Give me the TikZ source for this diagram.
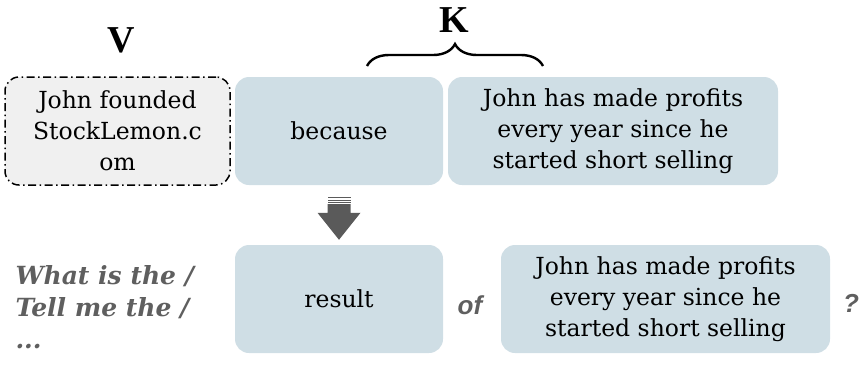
\documentclass[tikz,border=0pt]{standalone}
\usepackage{fontspec}
\setmainfont{DejaVu Serif}
\newfontfamily\qsans{Liberation Sans}
\newfontfamily\labelserif{Liberation Serif}
\usetikzlibrary{decorations.pathreplacing,calc}
\definecolor{boxblue}{RGB}{207,222,229}
\definecolor{boxgrey}{RGB}{240,240,240}
\definecolor{arrowgrey}{RGB}{90,90,90}
\definecolor{qgrey}{RGB}{95,95,95}
\begin{document}
\begin{tikzpicture}[x=1pt,y=-1pt,
  box/.style={rounded corners=14pt, minimum height=108pt, align=center,
    inner sep=0pt, font=\fontsize{23.5}{31}\selectfont},
  bluebox/.style={box, fill=boxblue},
  varbox/.style={box, fill=boxgrey, draw=black, line width=1.5pt,
    dash pattern=on 8pt off 3.5pt on 1.5pt off 3.5pt},
  biglabel/.style={inner sep=0pt, font=\fontsize{38}{40}\labelserif\bfseries},
  qtext/.style={text=qgrey, font=\fontsize{25}{32}\selectfont\bfseries\itshape, align=left},
  qsym/.style={text=qgrey, font=\fontsize{26}{28}\qsans\bfseries\itshape}]
\useasboundingbox (0,0) rectangle (859,368);

% top row: variable, relation, key
\node[varbox, minimum width=225pt] (v) at (117.5,131) {John founded\\StockLemon.c\\om};
\node[bluebox, minimum width=208pt] (because) at (339,131) {because};
\node[bluebox, minimum width=330pt] (k) at (613,131) {John has made profits\\every year since he\\started short selling};

% bottom row: question template
\node[bluebox, minimum width=208pt] (result) at (339,299) {result};
\node[bluebox, minimum width=329pt] (k2) at (665.5,299) {John has made profits\\every year since he\\started short selling};
\node[qsym] (of) at (470,305) {of};
\node[qsym] (qm) at (851,303) {?};
\node[qtext, anchor=north west] (ask) at (12,262) {What is the /\\Tell me the /\\...};

% labels
\node[biglabel] (vlabel) at (121,40) {V};
\coordinate (bl) at (367,66);
\coordinate (br) at (543,66);
\draw[line width=2.4pt, decorate, decoration={brace, amplitude=22pt, aspect=0.5}] (bl) -- (br);
\node[biglabel] (klabel) at (454,20) {K};

% transformation arrow
\coordinate (at) at ($(because.south)+(0,12)$);
\coordinate (ab) at ($(result.north)+(0,-5)$);
\fill[arrowgrey] ($(at)+(-11.5,7)$) -- ($(at)+(11.5,7)$) -- ($(ab)+(11.5,-27)$) -- ($(ab)+(21.5,-27)$)
  -- (ab) -- ($(ab)+(-21.5,-27)$) -- ($(ab)+(-11.5,-27)$) -- cycle;
\foreach \d in {0,2.5,5}
  \fill[arrowgrey] ($(at)+(-11.5,\d)$) rectangle ($(at)+(11.5,\d+1.2)$);
\end{tikzpicture}
\end{document}
